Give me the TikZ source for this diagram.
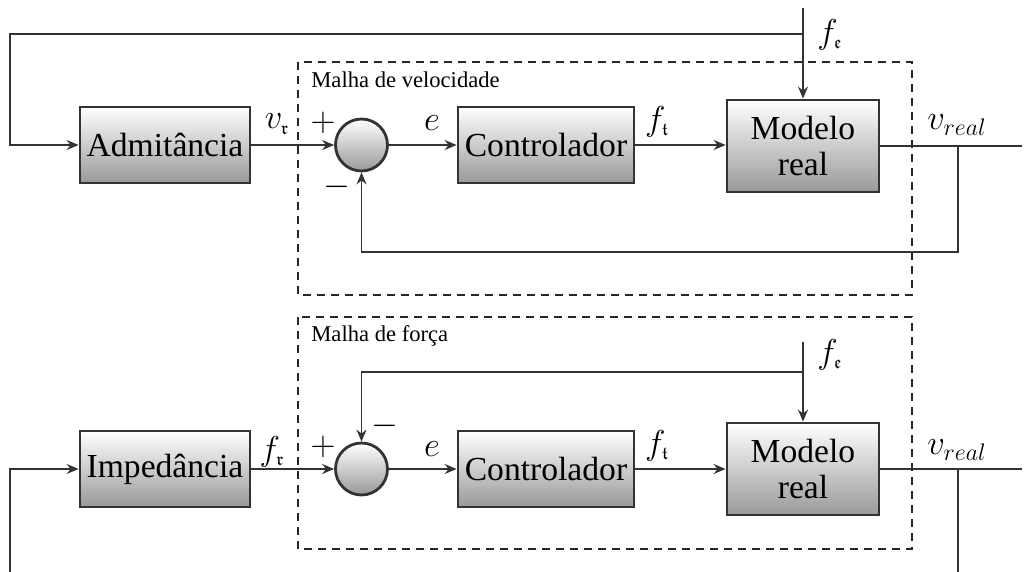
\documentclass[tikz,border=0pt]{standalone}
\usepackage{fontspec}
\setmainfont{Liberation Serif}
\usepackage{amssymb}
\usepackage{graphicx}
\usetikzlibrary{arrows.meta}

% small fraktur index used on the signal names
\newcommand{\fk}[1]{\mbox{\scalebox{0.78}{$\scriptstyle\mathfrak{#1}$}}}

\tikzset{
  block/.style={draw=black!80, line width=1.4pt, top color=white, bottom color=black!40,
    inner sep=0pt, align=center, font=\fontsize{16.8}{19}\selectfont},
  sumnode/.style={circle, draw=black!80, line width=1.4pt, top color=white, bottom color=black!40,
    minimum size=26pt, inner sep=0pt},
  wire/.style={draw=black!80, line width=0.8pt},
  arr/.style={wire, -{Stealth[length=6pt,width=5pt,inset=2pt]}},
  loopbox/.style={draw=black!85, line width=0.75pt, dash pattern=on 4pt off 3pt},
  lbl/.style={inner sep=0pt, font=\fontsize{16.8}{19}\selectfont},
  title/.style={inner sep=0pt, anchor=base west, font=\fontsize{11.3}{13}\selectfont}
}

\begin{document}
\begin{tikzpicture}[x=0.5pt,y=-0.5pt]
\useasboundingbox (0,0) rectangle (1025,572);

% ---------------- velocity loop ----------------
\draw[loopbox] (298,62) rectangle (912,295);
\node[title] (tv) at (311,88) {Malha de velocidade};

\node[block, minimum width=85pt, minimum height=38pt] (adm) at (165,145) {Admitância};
\node[sumnode] (s1) at (361.5,145) {};
\node[block, minimum width=88pt, minimum height=38pt] (c1) at (546,145) {Controlador};
\node[block, minimum width=76pt, minimum height=46pt] (m1) at (803,146) {Modelo\\[-1pt]real};

\coordinate (fe1) at (803,8);
\coordinate (k1) at (803,34);
\coordinate (k2) at (10,34);
\coordinate (k3) at (10,145);
\coordinate (o1) at (1022,146);
\coordinate (b1) at (958,146);
\coordinate (b2) at (958,252);
\coordinate (b3) at (361.5,252);

\draw[arr] (fe1) -- (m1.north);
\draw[arr] (k1) -- (k2) -- (k3) -- (adm.west);
\draw[arr] (adm.east) -- (s1.west);
\draw[arr] (s1.east) -- (c1.west);
\draw[arr] (c1.east) -- (m1.west |- c1.east);
\draw[wire] (m1.east |- o1) -- (o1);
\draw[arr] (b1) -- (b2) -- (b3) -- (s1.south);

\node[lbl] (lv) at (277,124) {$v_{\fk r}$};
\node[lbl] (lp1) at (323,123) {$+$};
\node[lbl] (lm1) at (337,187) {$-$};
\node[lbl] (le1) at (432,123) {$e$};
\node[lbl] (lt1) at (657,122) {$f_{\fk t}$};
\node[lbl] (lr1) at (957,125) {$v_{real}$};
\node[lbl] (lf1) at (830,35) {$f_{\fk e}$};

% ---------------- force loop ----------------
\draw[loopbox] (298,317) rectangle (912,549);
\node[title] (tf) at (311,342) {Malha de força};

\node[block, minimum width=85pt, minimum height=38pt] (imp) at (165,469) {Impedância};
\node[sumnode] (s2) at (361.5,469) {};
\node[block, minimum width=88pt, minimum height=38pt] (c2) at (546,469) {Controlador};
\node[block, minimum width=76pt, minimum height=46pt] (m2) at (803,469) {Modelo\\[-1pt]real};

\coordinate (fe2) at (803,342);
\coordinate (j1) at (803,372);
\coordinate (j2) at (361.5,372);
\coordinate (i1) at (10,572);
\coordinate (i2) at (10,469);
\coordinate (o2) at (1022,469);
\coordinate (d1) at (958,469);
\coordinate (d2) at (958,572);

\draw[arr] (fe2) -- (m2.north);
\draw[arr] (j1) -- (j2) -- (s2.north);
\draw[arr] (i1) -- (i2) -- (imp.west);
\draw[arr] (imp.east) -- (s2.west);
\draw[arr] (s2.east) -- (c2.west);
\draw[arr] (c2.east) -- (m2.west |- c2.east);
\draw[wire] (m2.east) -- (o2);
\draw[wire] (d1) -- (d2);

\node[lbl] (lf2) at (272,452) {$f_{\fk r}$};
\node[lbl] (lp2) at (323,447) {$+$};
\node[lbl] (lm2) at (385,426) {$-$};
\node[lbl] (le2) at (432,449) {$e$};
\node[lbl] (lt2) at (657,446) {$f_{\fk t}$};
\node[lbl] (lr2) at (957,450) {$v_{real}$};
\node[lbl] (lf3) at (830,355) {$f_{\fk e}$};
\end{tikzpicture}
\end{document}
